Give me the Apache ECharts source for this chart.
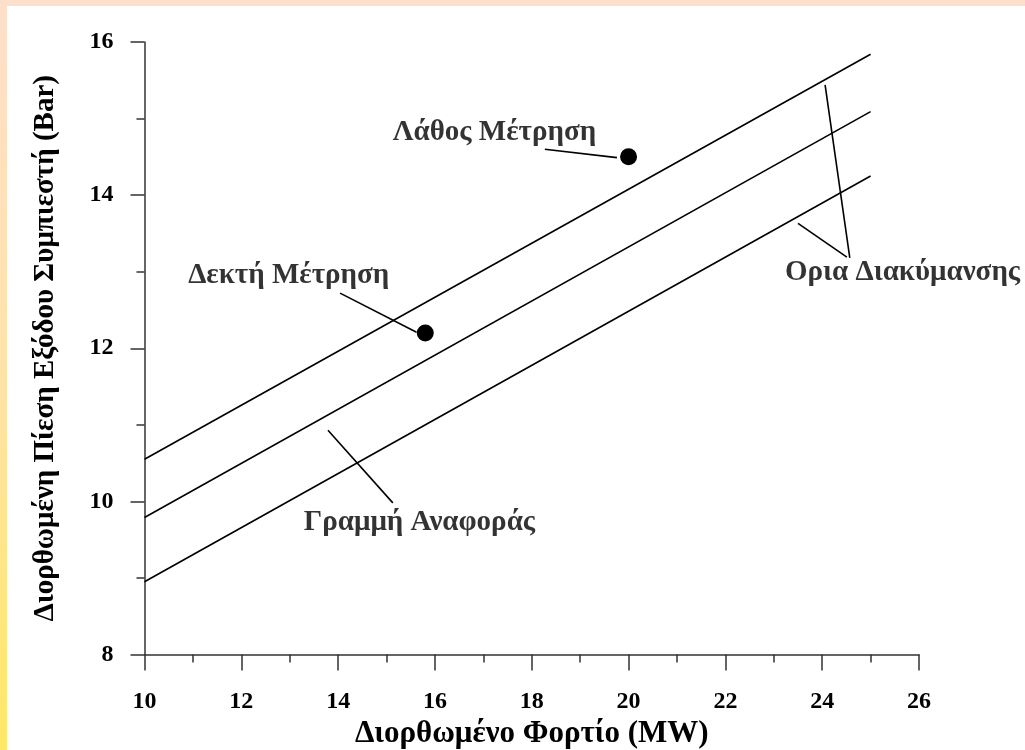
<!DOCTYPE html>
<html><head><meta charset="utf-8">
<script src="https://cdn.jsdelivr.net/npm/echarts@6/dist/echarts.min.js"></script>
<style>html,body{margin:0;padding:0;background:#fff}#c{width:1025px;height:750px}</style>
</head><body><div id="c"></div>
<script>
// Data
const xTicks = [10, 12, 14, 16, 18, 20, 22, 24, 26];
const yTicks = [8, 10, 12, 14, 16];
const lineX = [10, 25];
const upperLimit = [10.55, 15.84];
const referenceLine = [9.79, 15.09];
const lowerLimit = [8.95, 14.25];
const measurements = [[20.0, 14.5], [15.8, 12.2]];
const leaderLines = [
  [[18.27, 14.60], [19.76, 14.49]],
  [[14.04, 12.72], [15.62, 12.21]],
  [[13.79, 10.93], [15.13, 9.98]],
  [[24.06, 15.44], [24.57, 13.18]],
  [[23.50, 13.63], [24.51, 13.19]]
];
const annotations = [
  [17.23, 14.82, 'Λάθος Μέτρηση'],
  [12.98, 12.95, 'Δεκτή Μέτρηση'],
  [25.66, 12.99, 'Ορια Διακύμανσης'],
  [15.68, 9.72, 'Γραμμή Αναφοράς']
];
const xTitle = 'Διορθωμένο Φορτίο (MW)';
const yTitle = 'Διορθωμένη Πίεση Εξόδου Συμπιεστή (Bar)';

const FONT = '"Liberation Serif", "DejaVu Serif", serif';
const mk = ys => lineX.map((x, i) => [x, ys[i]]);
const lineStyle = { color: '#000', width: 1.6 };

const chart = echarts.init(document.getElementById('c'), null, { renderer: 'canvas' });
chart.setOption({
  animation: false,
  backgroundColor: '#fff',
  graphic: [
    { type: 'rect', shape: { x: 0, y: 0, width: 1025, height: 6 }, style: { fill: '#FDE0CB' }, silent: true },
    { type: 'rect', shape: { x: 0, y: 0, width: 7, height: 750 }, silent: true,
      style: { fill: { type: 'linear', x: 0, y: 0, x2: 0, y2: 1,
        colorStops: [{ offset: 0, color: '#FDE0CB' }, { offset: 0.5, color: '#FEE3A8' }, { offset: 1, color: '#FFE866' }] } } }
  ],
  grid: { left: 144.5, right: 106, top: 42, bottom: 95.5, containLabel: false, outerBoundsMode: 'none' },
  xAxis: {
    type: 'value', min: xTicks[0], max: xTicks[xTicks.length - 1], interval: 2,
    name: xTitle, nameLocation: 'middle', nameGap: 61,
    nameTextStyle: { fontFamily: FONT, fontWeight: 'bold', fontSize: 31, color: '#000' },
    axisLine: { show: true, lineStyle: { color: '#333', width: 1.5 } },
    axisTick: { show: true, inside: false, length: 16, lineStyle: { color: '#333', width: 1.5 } },
    minorTick: { show: true, splitNumber: 2, length: 8, lineStyle: { color: '#333', width: 1.5 } },
    splitLine: { show: false }, minorSplitLine: { show: false },
    axisLabel: { margin: 35, fontFamily: FONT, fontWeight: 'bold', fontSize: 24, color: '#000' }
  },
  yAxis: {
    type: 'value', min: yTicks[0], max: yTicks[yTicks.length - 1], interval: 2,
    name: yTitle, nameLocation: 'middle', nameGap: 84, nameRotate: 90,
    nameTextStyle: { fontFamily: FONT, fontWeight: 'bold', fontSize: 29, color: '#000' },
    axisLine: { show: true, lineStyle: { color: '#333', width: 1.5 } },
    axisTick: { show: true, inside: false, length: 14, lineStyle: { color: '#333', width: 1.5 } },
    minorTick: { show: true, splitNumber: 2, length: 8, lineStyle: { color: '#333', width: 1.5 } },
    splitLine: { show: false }, minorSplitLine: { show: false },
    axisLabel: { margin: 31, fontFamily: FONT, fontWeight: 'bold', fontSize: 24, color: '#000' }
  },
  series: [
    { type: 'line', data: mk(upperLimit), symbol: 'none', lineStyle, silent: true },
    { type: 'line', data: mk(referenceLine), symbol: 'none', lineStyle, silent: true },
    { type: 'line', data: mk(lowerLimit), symbol: 'none', lineStyle, silent: true },
    { type: 'lines', coordinateSystem: 'cartesian2d', silent: true,
      data: leaderLines.map(c => ({ coords: c })),
      lineStyle: { color: '#000', width: 1.6, opacity: 1 } },
    { type: 'scatter', data: measurements, symbol: 'circle', symbolSize: 17,
      itemStyle: { color: '#000', opacity: 1 }, silent: true },
    { type: 'scatter', data: annotations, symbolSize: 0, silent: true, clip: false,
      label: { show: true, position: 'inside', formatter: p => p.data[2],
        fontFamily: FONT, fontWeight: 'bold', fontSize: 29, color: '#000' } }
  ]
});
</script></body></html>
